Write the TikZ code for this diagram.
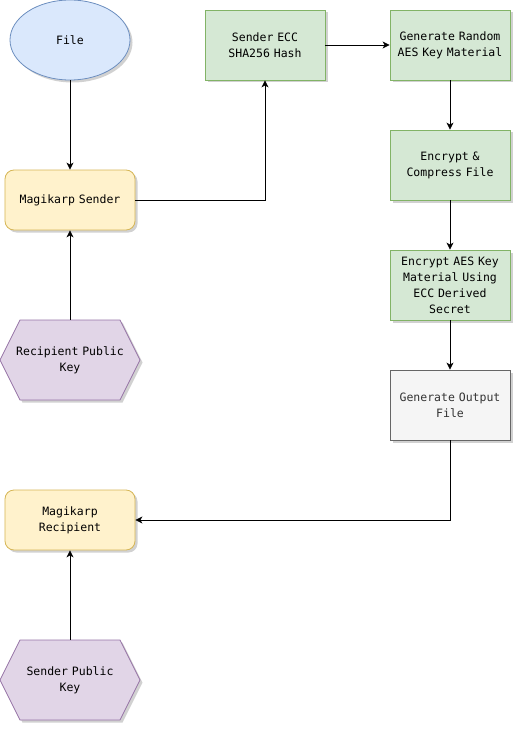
\documentclass[tikz,border=0pt]{standalone}
\usepackage{fontspec}
\newfontfamily\diagfont{DejaVu Sans Mono}
\usetikzlibrary{arrows.meta,shadows,calc,shapes.geometric}
\definecolor{bluefill}{HTML}{DAE8FC}
\definecolor{bluedraw}{HTML}{6C8EBF}
\definecolor{greenfill}{HTML}{D5E8D4}
\definecolor{greendraw}{HTML}{82B366}
\definecolor{yellowfill}{HTML}{FFF2CC}
\definecolor{yellowdraw}{HTML}{D6B656}
\definecolor{purplefill}{HTML}{E1D5E7}
\definecolor{purpledraw}{HTML}{9673A6}
\definecolor{grayfill}{HTML}{F5F5F5}
\definecolor{graydraw}{HTML}{666666}
\definecolor{graytext}{HTML}{333333}
\begin{document}
\begin{tikzpicture}[x=1bp,y=-1bp,
  font=\diagfont\fontsize{11.5bp}{16bp}\selectfont,
  shade/.style={drop shadow={shadow xshift=2.5bp,shadow yshift=-2.5bp,fill=black,opacity=0.18}},
  procbox/.style={rectangle,draw=greendraw,fill=greenfill,line width=0.8bp,shade,
    minimum width=120bp,minimum height=70bp,inner sep=0pt,text width=120bp,align=center},
  outbox/.style={procbox,draw=graydraw,fill=grayfill,text=graytext},
  actor/.style={rectangle,rounded corners=9bp,draw=yellowdraw,fill=yellowfill,line width=0.8bp,shade,
    minimum width=130bp,minimum height=60bp,inner sep=0pt,text width=128bp,align=center},
  filenode/.style={ellipse,draw=bluedraw,fill=bluefill,line width=0.8bp,shade,
    minimum width=120bp,minimum height=80bp,inner sep=0pt},
  keynode/.style={rectangle,minimum width=140bp,minimum height=80bp,inner sep=0pt,text width=130bp,align=center},
  hexshape/.style={draw=purpledraw,fill=purplefill,line width=0.8bp,shade},
  flow/.style={-{Stealth[length=7bp,width=7bp,inset=2bp]},line width=0.8bp,black}
]
\useasboundingbox (0,0) rectangle (521,732);

\node[filenode] (file) at (70,40) {File};
\node[procbox] (sha) at (265,45) {Sender ECC\\SHA256 Hash};
\node[procbox] (rnd) at (450,45) {Generate Random\\AES Key Material};
\node[procbox] (enc) at (450,165) {Encrypt \&\\Compress File};
\node[procbox] (aes) at (450,285) {Encrypt AES Key\\Material Using\\ECC Derived\\Secret};
\node[outbox] (out) at (450,405) {Generate Output\\File};
\node[actor] (snd) at (70,200) {Magikarp Sender};
\node[actor] (rcp) at (70,520) {Magikarp\\Recipient};

% hexagons
\coordinate (rpkc) at (70,360);
\draw[hexshape] ($(rpkc)+(-70,0)$) -- ($(rpkc)+(-50,-40)$) -- ($(rpkc)+(50,-40)$) -- ($(rpkc)+(70,0)$) -- ($(rpkc)+(50,40)$) -- ($(rpkc)+(-50,40)$) -- cycle;
\node[keynode] (rpk) at (rpkc) {Recipient Public\\Key};
\coordinate (spkc) at (70,680);
\draw[hexshape] ($(spkc)+(-70,0)$) -- ($(spkc)+(-50,-40)$) -- ($(spkc)+(50,-40)$) -- ($(spkc)+(70,0)$) -- ($(spkc)+(50,40)$) -- ($(spkc)+(-50,40)$) -- cycle;
\node[keynode] (spk) at (spkc) {Sender Public\\Key};

% connectors
\draw[flow] (file.south) -- (snd.north);
\draw[flow] (rpk.north) -- (snd.south);
\draw[flow] (snd.east) -| (sha.south);
\draw[flow] (sha.east) -- (rnd.west);
\draw[flow] (rnd.south) -- (enc.north);
\draw[flow] (enc.south) -- (aes.north);
\draw[flow] (aes.south) -- (out.north);
\draw[flow] (out.south) |- (rcp.east);
\draw[flow] (spk.north) -- (rcp.south);
\end{tikzpicture}
\end{document}
